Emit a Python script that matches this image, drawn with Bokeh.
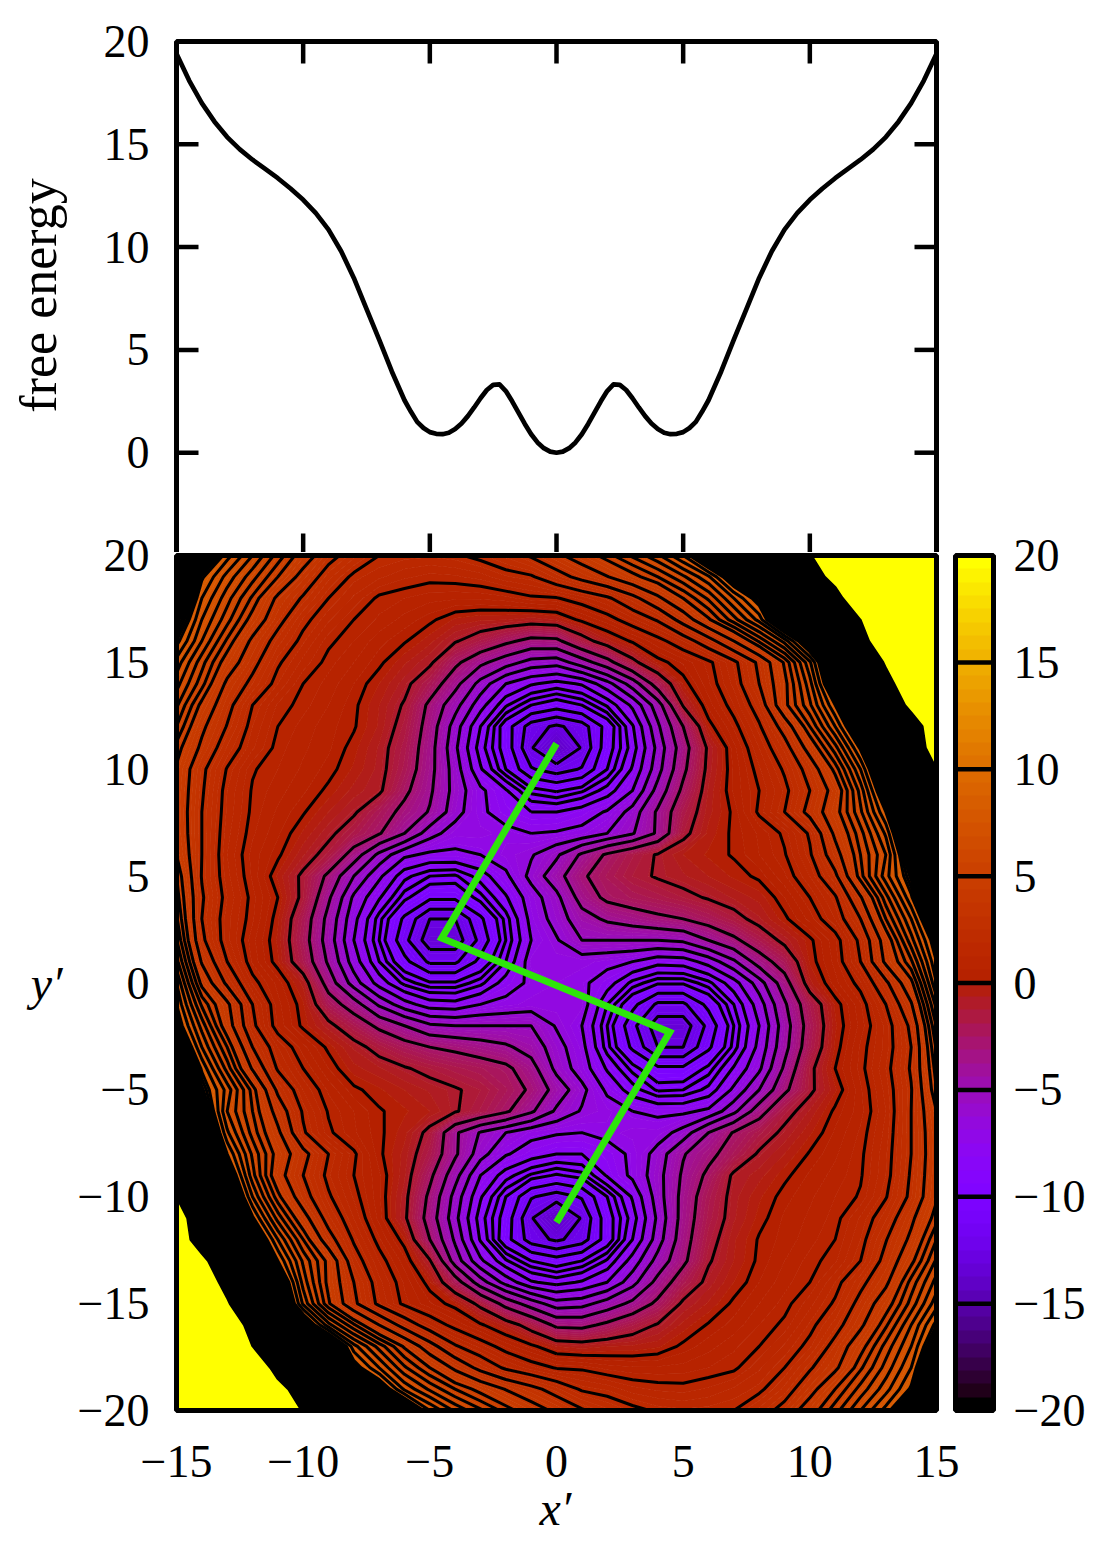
import math
import numpy as np
from bokeh.embed import file_html
from bokeh.layouts import column
from bokeh.models import FixedTicker, LinearAxis, LinearColorMapper, Range1d, Title
from bokeh.plotting import figure
from bokeh.resources import INLINE

# ---- free-energy curve of the upper panel
FE_X = [-15,-14.5,-14,-13.5,-13,-12.5,-12,-11.5,-11,-10.5,-10,-9.5,-9,-8.5,-8,-7.5,-7,-6.5,
        -6,-5.75,-5.5,-5.25,-5,-4.75,-4.5,-4.25,-4,-3.75,-3.5,-3.25,-3,-2.75,-2.5,-2.25,-2,-1.75,-1.5,-1.25,-1,-0.75,-0.5,-0.25,
        0,0.25,0.5,0.75,1,1.25,1.5,1.75,2,2.25,2.5,2.75,3,3.25,3.5,3.75,4,4.25,4.5,4.75,5,5.25,5.5,5.75,6,
        6.5,7,7.5,8,8.5,9,9.5,10,10.5,11,11.5,12,12.5,13,13.5,14,14.5,15]
FE_Y = [19.4,18.1,17,16.1,15.35,14.75,14.25,13.8,13.35,12.85,12.3,11.65,10.85,9.8,8.5,7,5.5,3.95,
        2.55,2,1.5,1.2,1,0.92,0.9,0.97,1.15,1.42,1.78,2.2,2.65,3.05,3.3,3.32,3,2.5,1.95,1.4,0.9,0.5,0.22,0.05,
        0,0.05,0.22,0.5,0.9,1.4,1.95,2.5,3,3.32,3.3,3.05,2.65,2.2,1.78,1.42,1.15,0.97,0.9,0.92,1,1.2,1.5,2,2.55,
        3.95,5.5,7,8.5,9.8,10.85,11.65,12.3,12.85,13.35,13.8,14.25,14.75,15.35,16.1,17,18.1,19.4]

# ---- surface values, x' = -15 ... 15, one list per y'
Z20 = [13,10,8.2,7,5.8,4.6,3.3,2.6,2,1.85,1.8,1.9,2.2,2.6,3.1,3.8,4.5,5.3,6.1,6.9,8,10,12.3,14.5,17,19.7,24,28,32,36,40]
Z19 = [12,8.6,7.3,6.2,5,3.6,2.6,1.85,1.55,1.3,1.15,1.2,1.35,1.7,1.9,2.6,3.3,3.95,4.75,5.5,6.4,7.4,9.3,12,15,17.8,21.5,27,31,35,39]
Z18 = [10.5,8,6.7,5.4,3.8,2.9,2,1.45,.9,.75,.6,.55,.55,.65,.9,.95,1.35,1.85,2.7,3.8,5,6.1,7.5,8.9,11.8,15.4,18.3,24,28,32,36]
Z17 = [9.5,7.5,6.2,4.7,3.3,2.2,1.55,1,.7,.4,.1,-.3,-.45,-.5,-.65,-.5,.15,.7,1.4,2.1,3.4,4.9,6.3,7.7,10.4,13.2,16.5,20,25,29,33]
Z16 = [8.7,7,5.4,3.8,2.65,1.8,1.1,.75,.35,.05,-.4,-1.1,-1.8,-2.6,-3.3,-3.2,-1.7,-.6,.1,.75,1.5,2.6,4,5.6,7.2,9.6,13.2,18,24,28,32]
Z15 = [7.8,6.2,4.6,3.3,2.1,1.4,.85,.5,.1,-.45,-1,-2.6,-3.9,-4.9,-5.8,-6,-4.8,-3.4,-1.5,-.2,.3,.85,1.8,3.2,5.1,7.4,10.6,15.5,20.5,25,29]
Z14 = [7.2,5.7,3.8,2.75,1.75,1,.65,.25,-.25,-.9,-2.1,-3.8,-5.8,-7.4,-8.2,-8.6,-8.2,-6.8,-4.9,-2.2,-.2,.7,1.6,3,4.8,6.8,9.8,14,18.5,23,27]
Z13 = [6.6,4.8,3.3,2,1.2,.85,.5,.1,-.5,-1.3,-3.2,-5,-7,-8.9,-10,-10.5,-10,-8.9,-7.2,-4.8,-1.1,.35,1.25,2.4,4.8,6.4,8.5,12,16.8,21,25]
Z12 = [6,4.2,2.95,1.75,1,.65,.35,.05,-.55,-1.6,-3.5,-5.9,-8.3,-10.5,-12.5,-13.2,-12.5,-10.6,-8.4,-5.6,-2.9,-.2,.8,1.9,3.4,5.5,7.5,9.8,13.4,18,22.4]
Z11 = [5.3,3.8,2.45,1.55,.85,.55,.3,-.15,-.8,-1.9,-3.7,-6.2,-8.7,-10.4,-12.9,-14.5,-12.9,-10.4,-8.7,-6.1,-3.5,-1,.4,1.5,2.6,4.4,6.3,8.6,11.8,16,23]
Z10 = [4.9,3.2,1.95,1.05,.75,.45,.15,-.3,-.85,-2.1,-3.8,-5.9,-8.2,-10,-11.9,-12.5,-11.9,-10,-8.2,-5.8,-3.2,-.9,.3,1.2,2.1,3.4,5.2,7.5,10.4,14.2,20]
Z9 = [4.8,3.1,1.75,.95,.6,.3,-.1,-.6,-1,-2.6,-4,-5.8,-7.2,-8.2,-9.7,-10.1,-9.6,-8.7,-7.4,-5,-2.6,-.7,.3,1,1.8,3,4.4,6.7,9.5,13,17.5]
Z8 = [4.75,3,1.7,.9,.45,.05,-.5,-1.05,-2.2,-3.3,-4.3,-6,-7.2,-7.9,-8.3,-8.3,-7.9,-7.3,-6,-4,-1.9,-.6,.1,1.1,2,3.3,4.7,6.4,8.5,11.8,16]
Z7 = [4.8,3,1.6,.8,.3,-.3,-.95,-1.85,-2.8,-4.2,-6,-6.9,-6.9,-7.1,-7.4,-7.3,-7.1,-6.4,-5.5,-4,-1.5,-.4,.1,.55,1.1,2.1,4.2,5.8,7.6,10.7,14.6]
Z6 = [5,3,1.5,.65,.1,-.7,-1.6,-3.5,-5.7,-7.2,-7.6,-7.6,-7.4,-6.9,-6.5,-5.6,-4,-2.7,-1.8,-1.1,-.5,-.2,.05,.5,.95,1.9,3.6,5.5,7,9.8,13.4]
Z5 = [5.5,2.95,1.6,.7,-.3,-1.4,-3.2,-5.4,-7.2,-8.8,-9.5,-9.6,-8.7,-7.6,-6.1,-4.7,-3.1,-2.2,-1.5,-1.1,-.8,-.5,-.2,.1,.7,1.5,2.8,5.3,7.3,9,12]
Z4 = [5.75,3.1,1.75,.85,0,-1.45,-4,-6.6,-8.2,-9.8,-10.8,-10.8,-9.7,-8.4,-6.9,-5.7,-3.7,-2.6,-2.2,-1.9,-1.5,-1.1,-.7,-.4,.25,1,1.9,3.9,6.3,8.4,11]
Z3 = [6.1,3,1.6,.8,-.2,-2.1,-4.6,-7.1,-9.3,-11.2,-13,-13,-11.2,-9.3,-7.1,-6,-4.7,-4,-3.6,-3.2,-2.9,-2.3,-1.6,-.8,-.1,.6,1.5,3,5.5,7.5,10]
Z2 = [6.55,3.2,1.6,.6,-.3,-2.3,-4.8,-7.4,-9.5,-11.7,-13.6,-13.6,-11.7,-9.5,-7.4,-6.5,-5.4,-5.4,-5.4,-5.4,-5.2,-4.2,-3.2,-2,-.9,-.1,.7,2.2,4.5,6.8,9]
Z1 = [7.2,3.9,2,.7,-.2,-2,-4.4,-6.9,-9,-10.7,-12.2,-12.2,-10.7,-9,-6.9,-6.9,-6.9,-7.1,-7.4,-8,-7.9,-7,-5.6,-3.6,-2.2,-.2,.6,2,4.2,5.9,8.5]
Z0 = [8,4.8,2.8,1.2,.4,-.6,-3.5,-5.9,-7.8,-9.2,-9.9,-9.9,-9.2,-7.9,-7.2,-7,-7.2,-7.9,-9.2,-9.9,-9.9,-9.2,-7.8,-5.9,-3.5,-.6,.4,1.2,2.8,4.8,8]

UPPER_ROWS = [Z0,Z1,Z2,Z3,Z4,Z5,Z6,Z7,Z8,Z9,Z10,Z11,Z12,Z13,Z14,Z15,Z16,Z17,Z18,Z19,Z20]

# contour values as they appear in the picture
LINE_LEVELS = [-13,-12,-11,-10,-9.5,-9,-8.3,-7.4,-6.4,-5.4,-4.2,-2.9,-1.2,0,1,2,3,4,5,5.5,6,6.5,7,7.5,8,8.5]

# minimum-energy path
PATH_X = [0, -4.53, 4.47, 0]
PATH_Y = [11.2, 2.1, -2.3, -11.2]

X_TICKS = [-15,-10,-5,0,5,10,15]
TOP_Y_TICKS = [0,5,10,15,20]
MAIN_Y_TICKS = [-20,-15,-10,-5,0,5,10,15,20]
CBAR_LINES = [-15,-10,-5,0,5,10,15]

# ---- field: the surface has a point symmetry through the origin
rows = [r[::-1] for r in UPPER_ROWS[:0:-1]] + UPPER_ROWS
Z = np.array(rows, dtype=float)
xs = np.arange(-15, 16, dtype=float)
ys = np.arange(-20, 21, dtype=float)


def colour(v):
    g = min(max((v + 20) / 40, 0), 1)
    r = math.sqrt(g)
    gr = g ** 3
    b = max(math.sin(2 * math.pi * g), 0)
    return "#%02x%02x%02x" % (round(r * 255), round(gr * 255), round(b * 255))


PALETTE = [colour(-20 + 40 * i / 255) for i in range(256)]
mapper = LinearColorMapper(palette=PALETTE, low=-20, high=20)

FONT = "Liberation Serif"
TICK_SIZE = "46px"
PXX = 760 / 30      # pixels per x' unit
PXT = 514 / 25      # pixels per free-energy unit
PXM = 855 / 40      # pixels per y' unit
PAD = 3             # room so that frame lines are not clipped
BORDER = 5
OVERLAP = 24        # the lower canvas reaches up so that its top tick labels fit


def style_axis(ax, standoff):
    ax.axis_line_color = None
    ax.major_tick_line_color = None
    ax.minor_tick_line_color = None
    ax.major_tick_in = 0
    ax.major_tick_out = 0
    ax.minor_tick_in = 0
    ax.minor_tick_out = 0
    ax.major_label_text_font = FONT
    ax.major_label_text_font_size = TICK_SIZE
    ax.major_label_text_color = "black"
    ax.major_label_standoff = standoff
    ax.axis_label_text_font = FONT
    ax.axis_label_text_font_size = "48px"
    ax.axis_label_text_color = "black"


# ---- upper panel
top = figure(frame_width=760 + 2 * PAD, frame_height=514,
             x_range=Range1d(-15 - PAD / PXX, 15 + PAD / PXX),
             y_range=Range1d(-5 + PAD / PXT, 20 + PAD / PXT),
             output_backend="svg", toolbar_location=None,
             min_border_left=173, min_border_right=0, min_border_top=38, min_border_bottom=0,
             outline_line_color=None, background_fill_color="white", border_fill_color=None)
top.grid.visible = False
top.xaxis.visible = False
top.yaxis.ticker = FixedTicker(ticks=TOP_Y_TICKS)
style_axis(top.yaxis[0], 24)
top.yaxis.axis_label = "free energy"
top.yaxis.axis_label_text_font_style = "normal"
top.yaxis.axis_label_text_font_size = "52px"
top.yaxis.axis_label_standoff = 34
top.line(FE_X, FE_Y, line_color="black", line_width=4.7, line_join="round")
tx = [t for t in X_TICKS if abs(t) < 15]
ty = [t for t in TOP_Y_TICKS if t < 20]
TL = 22
top.segment(tx, [20] * len(tx), tx, [20 - TL / PXT] * len(tx), line_color="black", line_width=4.5)
top.segment(tx, [-5] * len(tx), tx, [-5 + TL / PXT] * len(tx), line_color="black", line_width=4.5)
top.segment([-15] * len(ty), ty, [-15 + TL / PXX] * len(ty), ty, line_color="black", line_width=4.5)
top.segment([15] * len(ty), ty, [15 - TL / PXX] * len(ty), ty, line_color="black", line_width=4.5)
top.quad(left=[-15], right=[15], bottom=[-5], top=[20], fill_color=None, line_color="black", line_width=BORDER)

# ---- lower panel and its colour bar share the y' scale
BAR_L, BAR_R = 15.75, 17.25
main = figure(frame_width=round((BAR_R + 15) * PXX) + 2 * PAD, frame_height=855 + 2 * PAD,
              x_range=Range1d(-15 - PAD / PXX, BAR_R + PAD / PXX),
              y_range=Range1d(-20 - PAD / PXM, 20 + PAD / PXM),
              output_backend="svg", toolbar_location=None,
              min_border_left=173, min_border_right=110, min_border_top=OVERLAP, min_border_bottom=135,
              outline_line_color=None, background_fill_color="white", border_fill_color=None,
              margin=(-OVERLAP, 0, 0, 0))
main.grid.visible = False
main.xaxis.ticker = FixedTicker(ticks=X_TICKS)
main.yaxis.ticker = FixedTicker(ticks=MAIN_Y_TICKS)
style_axis(main.xaxis[0], 32)
style_axis(main.yaxis[0], 24)
main.yaxis.axis_label = "y′"
main.yaxis.axis_label_text_font_style = "italic"
main.yaxis.axis_label_orientation = "horizontal"
main.yaxis.axis_label_standoff = 12
main.add_layout(Title(text="x′", align="left", offset=366, text_font=FONT, text_font_style="italic",
                      text_font_size="48px", text_color="black", standoff=0), "below")

right_axis = LinearAxis(ticker=FixedTicker(ticks=MAIN_Y_TICKS))
style_axis(right_axis, 17)
main.add_layout(right_axis, "right")

fill_levels = [-16 + 0.25 * i for i in range(145)] + [60]
fill_cols = [colour((a + b) / 2) if b <= 20 else "#ffff00" for a, b in zip(fill_levels[:-1], fill_levels[1:])]
edge_cols = fill_cols + [fill_cols[-1]]
main.contour(xs, ys, Z, fill_levels, fill_color=fill_cols, line_color=edge_cols, line_width=1)
dense = [round(8.7 + 0.2 * i, 1) for i in range(57)]
main.contour(xs, ys, Z, LINE_LEVELS + dense, line_color="black", line_width=3)

main.line(PATH_X, PATH_Y, line_color="#2ee60a", line_width=7, line_join="miter")

ramp = np.linspace(-20, 20, 64).reshape(-1, 1)
main.image(image=[ramp], x=BAR_L, y=-20, dw=BAR_R - BAR_L, dh=40, color_mapper=mapper)
n = len(CBAR_LINES)
main.segment([BAR_L] * n, CBAR_LINES, [BAR_R] * n, CBAR_LINES, line_color="black", line_width=4.5)
main.quad(left=[-15, BAR_L], right=[15, BAR_R], bottom=[-20, -20], top=[20, 20],
          fill_color=None, line_color="black", line_width=BORDER)

page = column(top, main, spacing=0)
open("out.html", "w").write(file_html(page, INLINE))
